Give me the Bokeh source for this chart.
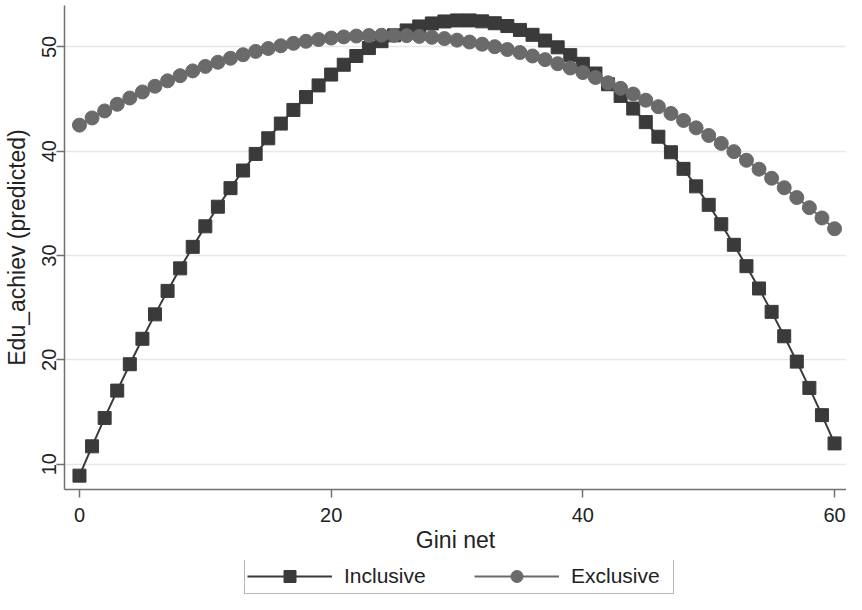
from bokeh.plotting import figure
from bokeh.models import Legend, LegendItem, FixedTicker, Range1d, ColumnDataSource
from bokeh.layouts import column
from bokeh.embed import file_html
from bokeh.resources import INLINE

gini = list(range(0, 61))
inclusive = [8.90, 11.71, 14.43, 17.05, 19.58, 22.02, 24.36, 26.61, 28.77, 30.83,
             32.80, 34.68, 36.46, 38.15, 39.74, 41.24, 42.65, 43.96, 45.19, 46.31,
             47.35, 48.29, 49.13, 49.89, 50.55, 51.11, 51.58, 51.96, 52.25, 52.44,
             52.54, 52.54, 52.45, 52.27, 52.00, 51.63, 51.16, 50.61, 49.96, 49.21,
             48.38, 47.45, 46.42, 45.30, 44.09, 42.79, 41.39, 39.90, 38.31, 36.63,
             34.86, 33.00, 31.03, 28.98, 26.84, 24.60, 22.26, 19.83, 17.31, 14.70,
             11.99]
exclusive = [42.50, 43.19, 43.86, 44.50, 45.10, 45.68, 46.23, 46.75, 47.24, 47.70,
             48.13, 48.53, 48.91, 49.25, 49.57, 49.85, 50.11, 50.34, 50.54, 50.71,
             50.85, 50.96, 51.04, 51.09, 51.12, 51.11, 51.08, 51.01, 50.92, 50.80,
             50.65, 50.47, 50.26, 50.02, 49.75, 49.46, 49.13, 48.78, 48.39, 47.98,
             47.54, 47.07, 46.56, 46.03, 45.48, 44.89, 44.27, 43.62, 42.95, 42.24,
             41.51, 40.75, 39.96, 39.13, 38.28, 37.41, 36.50, 35.56, 34.59, 33.60,
             32.57]
x_ticks = [0, 20, 40, 60]
y_ticks = [10, 20, 30, 40, 50]
series_labels = ["Inclusive", "Exclusive"]

FONT = "Liberation Sans"
AXIS_COLOR = "#707070"
INC_COLOR = "#3a3a3a"
EXC_COLOR = "#6a6a6a"

src = ColumnDataSource(dict(x=gini, inc=inclusive, exc=exclusive))

p = figure(width=846, height=560,
           x_range=Range1d(-1.19, 60.95), y_range=Range1d(7.57, 53.97),
           output_backend="svg", toolbar_location=None,
           min_border_left=64, min_border_right=0, min_border_top=5, min_border_bottom=71,
           background_fill_color="white", border_fill_color="white")
p.outline_line_color = None

p.xgrid.grid_line_color = None
p.ygrid.grid_line_color = "#e8e8e8"
p.ygrid.grid_line_width = 1.5

p.xaxis.ticker = FixedTicker(ticks=x_ticks)
p.yaxis.ticker = FixedTicker(ticks=y_ticks)
for ax in (p.xaxis[0], p.yaxis[0]):
    ax.axis_line_color = AXIS_COLOR
    ax.axis_line_width = 1.5
    ax.major_tick_line_color = AXIS_COLOR
    ax.major_tick_line_width = 1.5
    ax.major_tick_out = 8
    ax.major_tick_in = 0
    ax.minor_tick_line_color = None
    ax.major_label_text_font = FONT
    ax.major_label_text_font_size = "20px"
    ax.major_label_text_color = "#222222"
    ax.axis_label_text_font = FONT
    ax.axis_label_text_font_size = "23px"
    ax.axis_label_text_font_style = "normal"
    ax.axis_label_text_color = "#222222"

p.xaxis.axis_label = "Gini net"
p.xaxis.major_label_standoff = 10
p.xaxis.axis_label_standoff = 2
p.yaxis.axis_label = "Edu_achiev (predicted)"
p.yaxis.major_label_orientation = "vertical"
p.yaxis.major_label_standoff = 0
p.yaxis.axis_label_standoff = 10

p.line("x", "inc", source=src, line_color=INC_COLOR, line_width=2)
p.scatter("x", "inc", source=src, marker="square", size=13,
          fill_color=INC_COLOR, line_color=INC_COLOR)
p.line("x", "exc", source=src, line_color=EXC_COLOR, line_width=2)
p.scatter("x", "exc", source=src, marker="circle", size=14,
          fill_color=EXC_COLOR, line_color=EXC_COLOR)

# legend strip below the chart (same series, drawn out of its view, only the legend shows)
lg = figure(width=846, height=34, x_range=Range1d(0, 1), y_range=Range1d(0, 1),
            output_backend="svg", toolbar_location=None,
            x_axis_location=None, y_axis_location=None,
            min_border_left=0, min_border_right=0, min_border_top=0, min_border_bottom=0,
            background_fill_color="white", border_fill_color="white")
lg.outline_line_color = None
lg.grid.visible = False
el1 = lg.line("x", "inc", source=src, line_color=INC_COLOR, line_width=2)
es1 = lg.scatter("x", "inc", source=src, marker="square", size=13,
                 fill_color=INC_COLOR, line_color=INC_COLOR)
el2 = lg.line("x", "exc", source=src, line_color=EXC_COLOR, line_width=2)
es2 = lg.scatter("x", "exc", source=src, marker="circle", size=14,
                 fill_color=EXC_COLOR, line_color=EXC_COLOR)

legend = Legend(items=[LegendItem(label=series_labels[0], renderers=[el1, es1]),
                       LegendItem(label=series_labels[1], renderers=[el2, es2])],
                orientation="horizontal", location=(180, 0),
                glyph_width=85, glyph_height=30, label_standoff=12, spacing=30,
                label_width=100, padding=2, margin=0,
                border_line_color="#707070", border_line_width=1.5,
                background_fill_color="white",
                label_text_font=FONT, label_text_font_size="21px",
                label_text_color="#222222")
lg.add_layout(legend, "center")

layout = column(p, lg, spacing=0)
open("out.html", "w").write(file_html(layout, INLINE))
